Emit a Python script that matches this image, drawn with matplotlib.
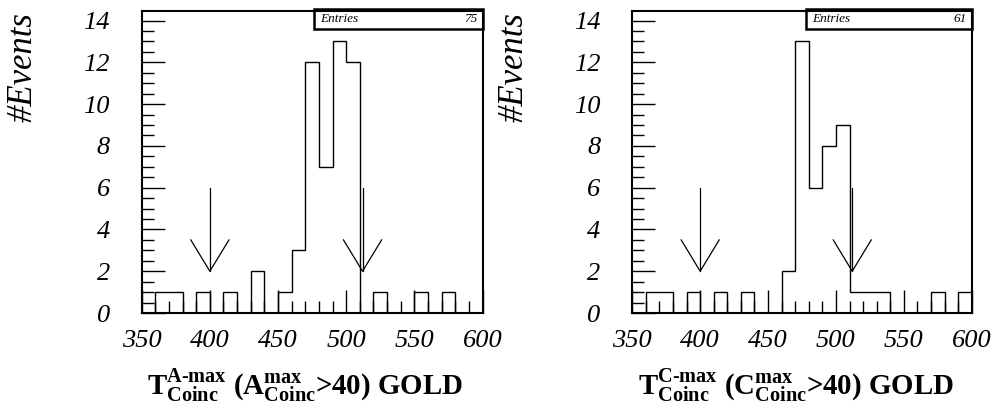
import numpy as np
import matplotlib
matplotlib.use("Agg")
import matplotlib.pyplot as plt
from matplotlib.patches import Rectangle
from matplotlib.ticker import MultipleLocator

plt.rcParams["font.family"] = ["Liberation Serif", "DejaVu Serif"]
plt.rcParams["font.style"] = "italic"
plt.rcParams["mathtext.fontset"] = "custom"
plt.rcParams["mathtext.rm"] = "Liberation Serif:style=normal:bold"
plt.rcParams["mathtext.bf"] = "Liberation Serif:style=normal:bold"
plt.rcParams["mathtext.it"] = "Liberation Serif:italic:bold"

# ========= DATA =========
BIN_EDGES = np.arange(350, 601, 10)

# counts per 10-unit bin, 350..600
COUNTS_A = [0, 1, 1, 0, 1, 0, 1, 0, 2, 0, 1, 3, 12, 7, 13, 12,
            0, 1, 0, 0, 1, 0, 1, 0, 0]
COUNTS_C = [0, 1, 1, 0, 1, 0, 1, 0, 1, 0, 0, 2, 13, 6, 8, 9,
            1, 1, 1, 0, 0, 0, 1, 0, 1]

ENTRIES_A = 75
ENTRIES_C = 61

CUTS = [400, 512]
ARROW_TOP = 6
ARROW_TIP = 2

X_LABEL_A = (r"$\mathrm{T}^{\mathrm{A\text{-}max}}_{\mathrm{Coinc}}\ "
             r"(\mathrm{A}^{\mathrm{max}}_{\mathrm{Coinc}}\text{>40) GOLD}$")
X_LABEL_C = (r"$\mathrm{T}^{\mathrm{C\text{-}max}}_{\mathrm{Coinc}}\ "
             r"(\mathrm{C}^{\mathrm{max}}_{\mathrm{Coinc}}\text{>40) GOLD}$")
Y_LABEL = "#Events"
# ========================

W, H = 996, 405
fig = plt.figure(figsize=(W / 100, H / 100), dpi=100)


def px_axes(x0, x1, y0, y1):
    # pixel box (from top-left) -> figure fraction
    return fig.add_axes([x0 / W, 1 - y1 / H, (x1 - x0) / W, (y1 - y0) / H])


def draw_panel(ax, counts, entries, box_left):
    ax.stairs(counts, BIN_EDGES, baseline=0, color="black", lw=1.0)

    # cut arrows
    for cut in CUTS:
        ax.plot([cut, cut], [ARROW_TOP, ARROW_TIP], color="black", lw=0.9)
        ax.plot([cut - 14, cut, cut + 14],
                [ARROW_TIP + 1.5, ARROW_TIP, ARROW_TIP + 1.5],
                color="black", lw=0.9)

    ax.set_xlim(350, 600)
    ax.set_ylim(0, 14.46)
    ax.xaxis.set_major_locator(MultipleLocator(50))
    ax.xaxis.set_minor_locator(MultipleLocator(10))
    ax.yaxis.set_major_locator(MultipleLocator(2))
    ax.yaxis.set_minor_locator(MultipleLocator(0.5))
    ax.tick_params(which="both", direction="in", top=False, right=False,
                   width=1.0, labelsize=19)
    ax.tick_params(which="major", length=16.5)
    ax.tick_params(which="minor", length=8.4)
    ax.tick_params(axis="x", pad=12)
    ax.tick_params(axis="y", pad=23)
    for s in ax.spines.values():
        s.set_linewidth(1.5)

    # stats box
    ax.add_patch(Rectangle((box_left, 0.942), 1 - box_left, 0.063,
                           transform=ax.transAxes, fill=False, lw=1.8,
                           ec="black", clip_on=False, zorder=5))
    ax.text(box_left + 0.018, 0.973, "Entries", transform=ax.transAxes,
            fontsize=9.5, ha="left", va="center")
    ax.text(0.985, 0.973, str(entries), transform=ax.transAxes,
            fontsize=9.5, ha="right", va="center")


ax1 = px_axes(141.7, 482.5, 11, 313)
ax2 = px_axes(632.3, 971.7, 11, 313)
draw_panel(ax1, COUNTS_A, ENTRIES_A, 0.506)
draw_panel(ax2, COUNTS_C, ENTRIES_C, 0.512)

fig.text(23 / W, 1 - 12 / H, Y_LABEL, rotation=90, ha="center", va="top",
         fontsize=25)
fig.text(514 / W, 1 - 12 / H, Y_LABEL, rotation=90, ha="center", va="top",
         fontsize=25)

fig.text(305 / W, 1 - 386 / H, X_LABEL_A, ha="center", va="center",
         fontsize=20.8)
fig.text(796 / W, 1 - 386 / H, X_LABEL_C, ha="center", va="center",
         fontsize=20.8)

fig.savefig("out.png", dpi=100)
